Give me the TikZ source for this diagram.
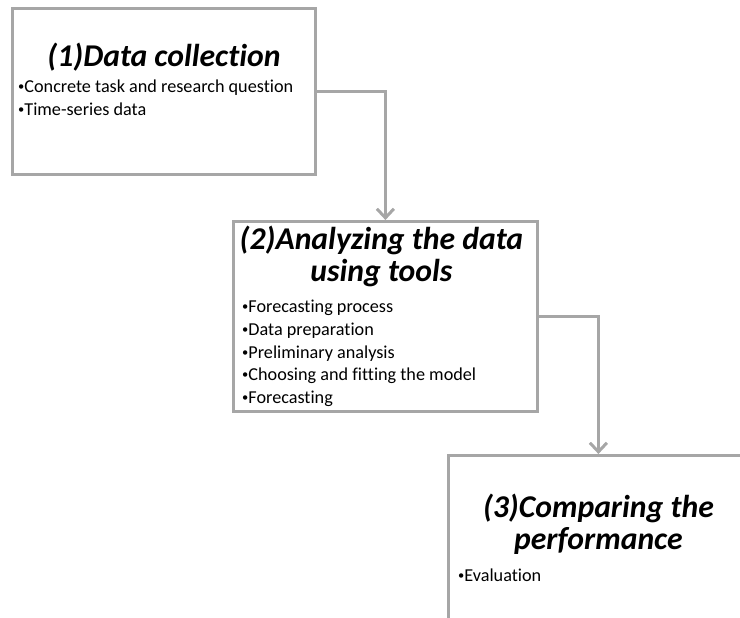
\documentclass[tikz,border=0pt]{standalone}
\usepackage{fontspec}
\setmainfont{Carlito}[Ligatures=NoCommon]
\usetikzlibrary{positioning,calc,arrows.meta}
\definecolor{framegray}{RGB}{166,166,166}
\newcommand{\stagedot}{\raisebox{2pt}{\fontsize{12.5}{12.5}\selectfont•}}
\tikzset{
  stagebox/.style={draw=framegray, line width=2.8pt, anchor=north west, inner sep=0pt},
  stagetitle/.style={font=\bfseries\itshape\fontsize{31.7}{32}\selectfont, align=center, anchor=base, inner sep=0pt},
  stageitem/.style={font=\fontsize{18.2}{20}\selectfont, anchor=base west, inner sep=0pt},
  flow/.style={draw=framegray, line width=3pt, -{Straight Barb[length=9pt,width=17pt]}}
}
\begin{document}
\begin{tikzpicture}[x=1pt,y=1pt]
  \clip (0,0) rectangle (740,618);

  % boxes
  \node[stagebox, minimum width=303pt, minimum height=166pt] (collect) at (11,611) {};
  \node[stagebox, minimum width=304pt, minimum height=190pt] (analyze) at (232,398) {};
  \node[stagebox, minimum width=300pt, minimum height=200pt] (compare) at (447,164) {};

  % (1)
  \node[stagetitle] (collecttitle) at ($(collect.north)+(0,-60)$) {(1)Data collection};
  \foreach \txt [count=\i] in {Concrete task and research question, Time-series data}
    \node[stageitem] (collectitem\i) at ($(collect.north west)+(7,-86-23*\i+23)$) {\stagedot\txt};

  % (2), base anchor sits on the last line
  \node[stagetitle] (analyzetitle) at ($(analyze.north)+(-4,-62)$) {(2)Analyzing the data\\using tools};
  \foreach \txt [count=\i] in {Forecasting process, Data preparation, Preliminary analysis, Choosing and fitting the model, Forecasting}
    \node[stageitem] (analyzeitem\i) at ($(analyze.north west)+(10,-93-22.6*\i+22.6)$) {\stagedot\txt};

  % (3)
  \node[stagetitle] (comparetitle) at ($(compare.north)+(0,-96)$) {(3)Comparing the\\performance};
  \node[stageitem] (compareitem1) at ($(compare.north west)+(11,-128)$) {\stagedot Evaluation};

  % arrows
  \draw[flow] (collect.east) -| (analyze.north);
  \draw[flow] (analyze.east) -| (compare.north);
\end{tikzpicture}
\end{document}
